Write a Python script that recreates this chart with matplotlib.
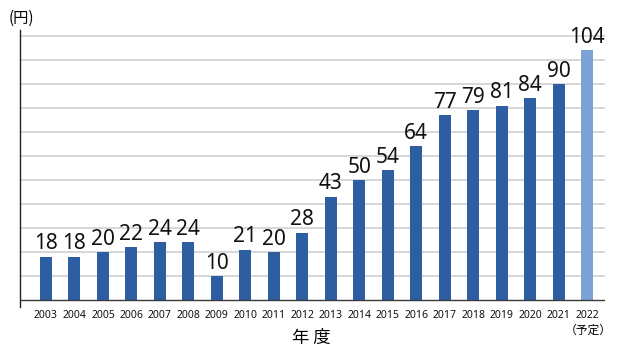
import matplotlib
matplotlib.use("Agg")
import matplotlib.pyplot as plt

years = ["2003", "2004", "2005", "2006", "2007", "2008", "2009", "2010", "2011", "2012",
         "2013", "2014", "2015", "2016", "2017", "2018", "2019", "2020", "2021", "2022"]
values = [18, 18, 20, 22, 24, 24, 10, 21, 20, 28, 43, 50, 54, 64, 77, 79, 81, 84, 90, 104]
planned = [False] * 19 + [True]

dark = "#2E5EA2"
light = "#7CA3D8"

W, H = 623, 352
fig = plt.figure(figsize=(W / 100, H / 100), dpi=100)
ymin, ymax = -3, 112.5
ax = fig.add_axes([20 / W, (H - 307.2) / H, (605 - 20) / W, (307.2 - 30) / H])

x = list(range(len(years)))
colors = [light if p else dark for p in planned]
ax.bar(x, values, width=0.42, color=colors, zorder=3)

for gy in range(10, 111, 10):
    ax.axhline(gy, color="#D4D4D4", lw=1.3, zorder=1)
ax.axhline(0, color="#3A3A3A", lw=1.0, zorder=4)

ax.set_xlim(-0.913, 19.63)
ax.set_ylim(ymin, ymax)

for s in ["top", "right", "bottom"]:
    ax.spines[s].set_visible(False)
ax.spines["left"].set_color("#222222")
ax.spines["left"].set_linewidth(1.0)
ax.set_yticks([])
ax.set_xticks(x)
ax.set_xticklabels(years, fontsize=7.5, family="Noto Sans", color="#111111")
ax.tick_params(axis="x", length=0, pad=2)

for xi, v in zip(x, values):
    ax.text(xi, v + 1.0, str(v), ha="center", va="bottom", fontsize=15,
            family="Noto Sans", color="#111111", zorder=5)

cjk = ["Noto Sans CJK JP", "DejaVu Sans"]
fig.text(21 / W, 1 - 18 / H, "(円)", ha="center", va="center", fontsize=11, family=cjk)
fig.text(588 / W, 1 - 330 / H, "（予定）", ha="center", va="center", fontsize=8.5, family=cjk)
fig.text(311 / W, 1 - 338 / H, "年 度", ha="center", va="center", fontsize=12.5, family=cjk)

fig.savefig("out.png", dpi=100)
